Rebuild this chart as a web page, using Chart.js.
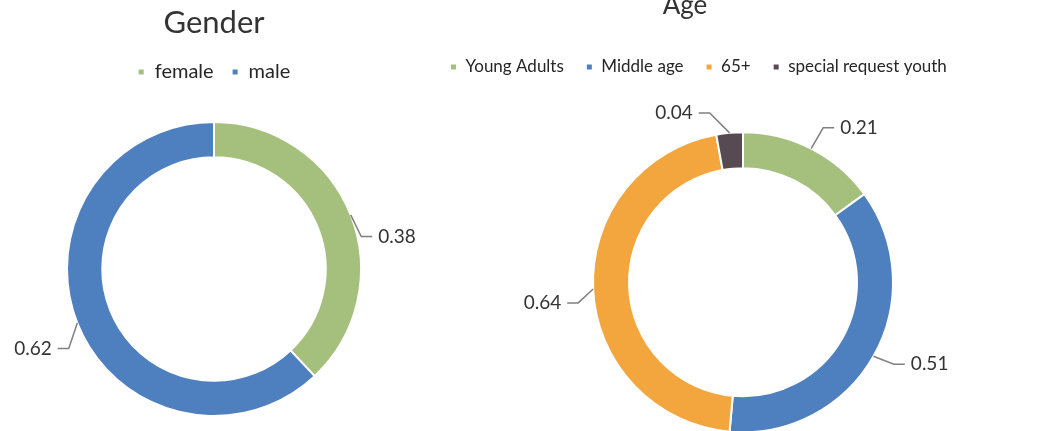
<!DOCTYPE html>
<html>
<head>
<meta charset="utf-8">
<script src="https://cdn.jsdelivr.net/npm/chart.js@4/dist/chart.umd.min.js"></script>
<style>
  html, body { margin: 0; padding: 0; background: #fff; overflow: hidden; width: 1055px; height: 431px; }
  canvas { position: absolute; }
  #G1 { left: 0px; top: 0px; }
  #G2 { left: 428px; top: -17px; }
</style>
</head>
<body>
<canvas id="G1" width="428" height="446"></canvas>
<canvas id="G2" width="630" height="496"></canvas>
<script>
// gender
var generos = ["female", "male"];
var valores_genero = [0.38, 0.62];

// age groups
var edades = ["Young Adults", "Middle age", "65+", "special request youth"];
var valores_edad = [0.21, 0.51, 0.64, 0.04];

var colores_genero = ['#a5c07d', '#4e80bf'];
var colores_edad = ['#a5c07d', '#4e80bf', '#f2a63d', '#574a52'];

var fuente = "Lato, 'Open Sans', sans-serif";

// value labels with little leader lines outside the ring
// (mover = small shift of each label away from the plain radial spot, like the hand-placed originals)
var etiquetas = {
    id: 'etiquetas',
    afterDatasetsDraw(chart, args, opts) {
        var ctx = chart.ctx;
        var meta = chart.getDatasetMeta(0);
        var datos = chart.data.datasets[0].data;
        ctx.save();
        ctx.font = opts.size + "px " + fuente;
        ctx.textBaseline = 'middle';
        meta.data.forEach(function(arc, i){
            var p = arc.getProps(['x', 'y', 'startAngle', 'endAngle', 'outerRadius'], true);
            var mid = (p.startAngle + p.endAngle) / 2;
            var c = Math.cos(mid), s = Math.sin(mid);
            var m = (opts.mover && opts.mover[i]) || [0, 0];
            var ax = p.x + c * p.outerRadius, ay = p.y + s * p.outerRadius;
            var ex = p.x + c * (p.outerRadius + opts.elbow) + m[0], ey = p.y + s * (p.outerRadius + opts.elbow) + m[1];
            var dir = c >= 0 ? 1 : -1;
            var tx = ex + dir * opts.tail;
            ctx.strokeStyle = '#808080';
            ctx.lineWidth = 1.5;
            ctx.beginPath();
            ctx.moveTo(ax, ay);
            ctx.lineTo(ex, ey);
            ctx.lineTo(tx, ey);
            ctx.stroke();
            ctx.fillStyle = '#333';
            ctx.textAlign = dir > 0 ? 'left' : 'right';
            ctx.fillText(datos[i].toFixed(2), tx + dir * opts.gap, ey);
        });
        ctx.restore();
    }
};

// move the title sideways (the Age title is not centred on its ring)
var moverTitulo = {
    id: 'moverTitulo',
    afterLayout(chart, args, opts) {
        var t = chart.titleBlock;
        if (t && opts.dx) { t.left += opts.dx; t.right += opts.dx; }
    }
};

function opciones(titulo, tamTitulo, arribaTitulo, bajoTitulo, tamLeyenda, sepLeyenda, alinear, dx, radio, mover){
    return {
        responsive: false,
        animation: false,
        radius: radio,
        cutout: '76%',
        layout: { padding: 0 },
        plugins: {
            title: { display: true, text: titulo, color: '#333', font: {family: fuente, size: tamTitulo, weight: 'normal'}, padding: {top: arribaTitulo, bottom: bajoTitulo} },
            legend: { display: true, position: 'top', align: alinear,
                labels: { boxWidth: 7, boxHeight: 7, padding: sepLeyenda, color: '#262626', font: {family: fuente, size: tamLeyenda} } },
            tooltip: { enabled: false },
            etiquetas: { size: 19, elbow: 20, tail: 11, gap: 6, mover: mover },
            moverTitulo: { dx: dx }
        }
    };
}

var grafico_genero = new Chart(document.getElementById("G1").getContext("2d"), {
    type: 'doughnut',
    data: { labels: generos, datasets: [{ data: valores_genero, backgroundColor: colores_genero, borderColor: '#fff', borderWidth: 2 }] },
    options: opciones("Gender", 31, 4.4, 2.4, 20, 18, 'center', 0, 147, [[-8, 29], [10, 18]]),
    plugins: [etiquetas, moverTitulo]
});

var grafico_edad = new Chart(document.getElementById("G2").getContext("2d"), {
    type: 'doughnut',
    data: { labels: edades, datasets: [{ data: valores_edad, backgroundColor: colores_edad, borderColor: '#fff', borderWidth: 2 }] },
    options: opciones("Age", 26, 7.4, 14.9, 17, 22, 'start', -58, 150, [[3, -3], [3, -2], [5, 13], [-18, 0]]),
    plugins: [etiquetas, moverTitulo]
});
</script>
</body>
</html>
